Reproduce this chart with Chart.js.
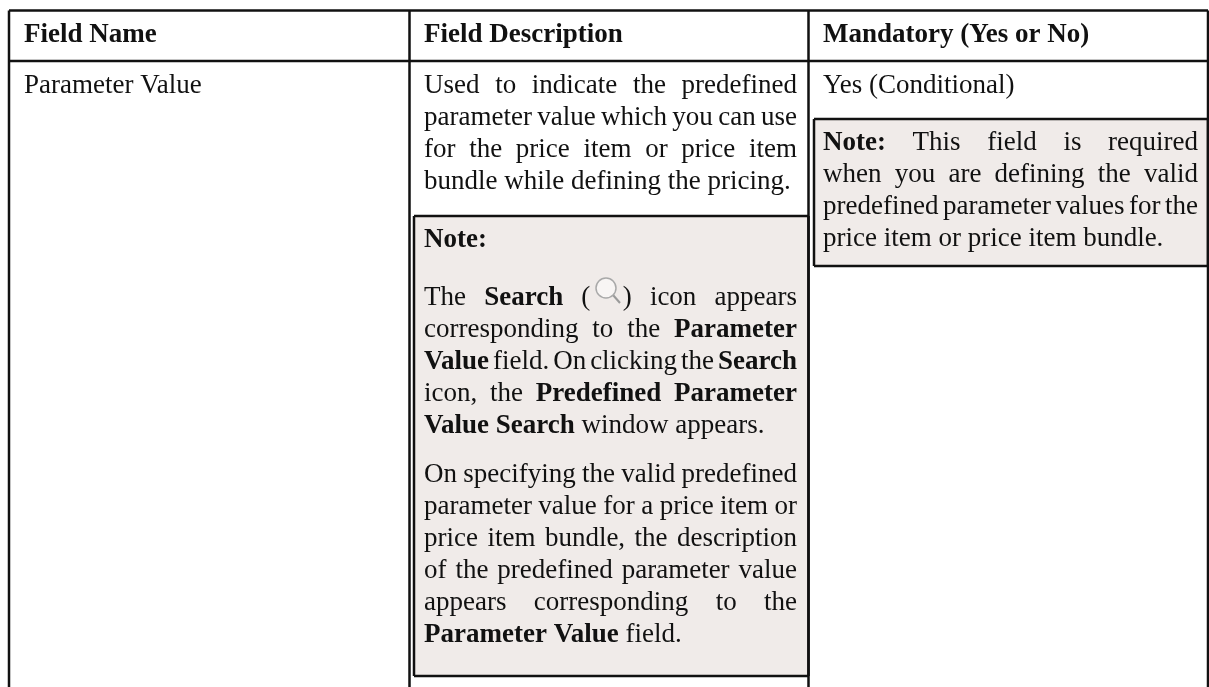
<!DOCTYPE html>
<html>
<head>
<meta charset="utf-8">
<title>Field table</title>
<script src="https://cdn.jsdelivr.net/npm/chart.js@4"></script>
<style>
    html, body { margin: 0; background: #fff; }
    canvas { display: block; }
</style>
</head>
<body>
<canvas id="field-table" width="1209" height="687"></canvas>
<script>
// text of the table, ** marks bold
const headers = ['**Field Name**', '**Field Description**', '**Mandatory (Yes or No)**'];
const fieldName = ['Parameter Value'];
const description = [
    'Used to indicate the predefined',
    'parameter value which you can use',
    'for the price item or price item',
    'bundle while defining the pricing.'
];
const noteTitle = ['**Note:**'];
const noteSearch = [
    'The **Search** (\u2002\u2002\u2009) icon appears',
    'corresponding to the **Parameter**',
    '**Value** field. On clicking the **Search**',
    'icon, the **Predefined Parameter**',
    '**Value Search** window appears.'
];
const noteSpecify = [
    'On specifying the valid predefined',
    'parameter value for a price item or',
    'price item bundle, the description',
    'of the predefined parameter value',
    'appears corresponding to the',
    '**Parameter Value** field.'
];
const mandatory = ['Yes (Conditional)'];
const noteRequired = [
    '**Note:** This field is required',
    'when you are defining the valid',
    'predefined parameter values for the',
    'price item or price item bundle.'
];

// table geometry on the axes (px units)
const colEdges = [9, 409.5, 808.5, 1208];
const rowEdges = [10.5, 61, 687];
const noteBoxes = [
    { left: 414, right: 808.5, top: 216, bottom: 676 },
    { left: 814, right: 1208, top: 119, bottom: 266 }
];
const col1 = { left: 24, right: 400 };
const col2 = { left: 424, right: 797 };
const col3 = { left: 823, right: 1198 };

const textFont = '"Liberation Serif", "Times New Roman", serif';
const fontSize = 27;
const lineStep = 32;
const ink = '#111111';

function rule(x1, y1, x2, y2) {
    return {
        data: [{ x: x1, y: y1 }, { x: x2, y: y2 }],
        showLine: true,
        borderColor: ink,
        borderWidth: 2.5,
        pointRadius: 0
    };
}

const tableRules = [];
rowEdges.slice(0, 2).forEach(function (y) {
    tableRules.push(rule(colEdges[0], y, colEdges[3], y));
});
colEdges.forEach(function (x) {
    tableRules.push(rule(x, rowEdges[0], x, rowEdges[2]));
});
noteBoxes.forEach(function (b) {
    tableRules.push(rule(b.left, b.top, b.right, b.top));
    tableRules.push(rule(b.left, b.bottom, b.right, b.bottom));
    tableRules.push(rule(b.left, b.top, b.left, b.bottom));
    tableRules.push(rule(b.right, b.top, b.right, b.bottom));
});

// search icon
tableRules.push({
    data: [{ x: 606, y: 288 }],
    pointRadius: 10,
    pointBorderWidth: 1.5,
    pointBorderColor: '#a9a9a9',
    pointBackgroundColor: 'rgba(255,255,255,0.5)'
});
tableRules.push({
    data: [{ x: 613, y: 295 }, { x: 620, y: 303 }],
    showLine: true,
    borderColor: '#9a9a9a',
    borderWidth: 2,
    pointRadius: 0
});

function splitWords(line) {
    const words = [];
    line.split('**').forEach(function (part, i) {
        part.split(' ').forEach(function (w) {
            if (w) words.push({ text: w, bold: i % 2 === 1 });
        });
    });
    return words;
}

function setFont(ctx, bold) {
    ctx.font = (bold ? 'bold ' : '') + fontSize + 'px ' + textFont;
}

function drawLine(ctx, chart, line, cell, baseline, justify) {
    const xs = chart.scales.x;
    const ys = chart.scales.y;
    const words = splitWords(line);
    let total = 0;
    words.forEach(function (w) {
        setFont(ctx, w.bold);
        w.width = ctx.measureText(w.text).width;
        total += w.width;
    });
    const left = xs.getPixelForValue(cell.left);
    const right = xs.getPixelForValue(cell.right);
    const gap = justify && words.length > 1 ? (right - left - total) / (words.length - 1) : fontSize * 0.25;
    let x = left;
    words.forEach(function (w) {
        setFont(ctx, w.bold);
        ctx.fillText(w.text, x, ys.getPixelForValue(baseline));
        x += w.width + gap;
    });
}

function drawBlock(ctx, chart, lines, cell, baseline, justify) {
    lines.forEach(function (line, i) {
        const isLast = i === lines.length - 1;
        drawLine(ctx, chart, line, cell, baseline + i * lineStep, justify && !isLast);
    });
}

const tablePlugin = {
    id: 'tablePlugin',
    beforeDatasetsDraw: function (chart) {
        const ctx = chart.ctx;
        const xs = chart.scales.x;
        const ys = chart.scales.y;
        ctx.save();
        ctx.fillStyle = '#f0ebe9';
        noteBoxes.forEach(function (b) {
            ctx.fillRect(xs.getPixelForValue(b.left), ys.getPixelForValue(b.top),
                xs.getPixelForValue(b.right) - xs.getPixelForValue(b.left),
                ys.getPixelForValue(b.bottom) - ys.getPixelForValue(b.top));
        });
        ctx.restore();
    },
    afterDatasetsDraw: function (chart) {
        const ctx = chart.ctx;
        ctx.save();
        ctx.fillStyle = ink;
        ctx.textBaseline = 'alphabetic';
        drawBlock(ctx, chart, [headers[0]], col1, 42, false);
        drawBlock(ctx, chart, [headers[1]], col2, 42, false);
        drawBlock(ctx, chart, [headers[2]], col3, 42, false);
        drawBlock(ctx, chart, fieldName, col1, 93, false);
        drawBlock(ctx, chart, description, col2, 93, true);
        drawBlock(ctx, chart, noteTitle, col2, 247, false);
        drawBlock(ctx, chart, noteSearch, col2, 305, true);
        drawBlock(ctx, chart, noteSpecify, col2, 482, true);
        drawBlock(ctx, chart, mandatory, col3, 93, false);
        drawBlock(ctx, chart, noteRequired, col3, 150, true);
        ctx.restore();
    }
};

new Chart(document.getElementById('field-table'), {
    type: 'scatter',
    data: { datasets: tableRules },
    options: {
        responsive: false,
        animation: false,
        layout: { padding: 0, autoPadding: false },
        plugins: {
            legend: { display: false },
            tooltip: { enabled: false }
        },
        scales: {
            x: { type: 'linear', display: false, min: 0, max: 1209 },
            y: { type: 'linear', display: false, min: 0, max: 687, reverse: true }
        }
    },
    plugins: [tablePlugin]
});
</script>
</body>
</html>
